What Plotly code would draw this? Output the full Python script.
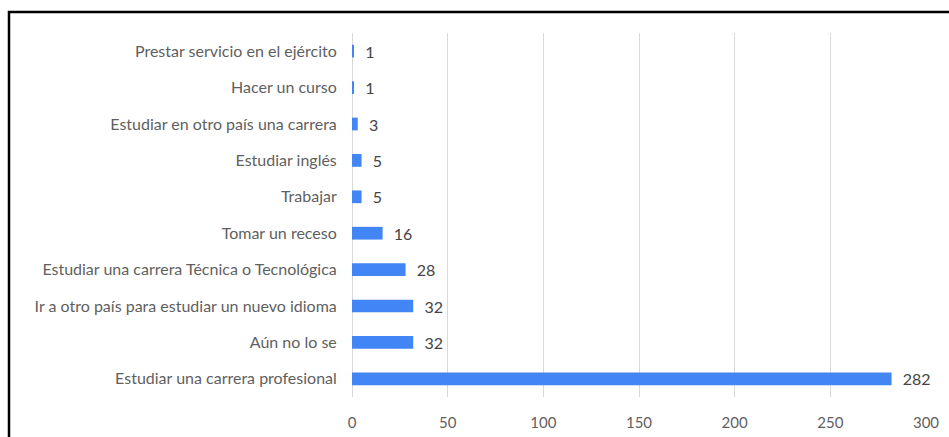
import plotly.graph_objects as go

categories = [
    "Estudiar una carrera profesional",
    "Aún no lo se",
    "Ir a otro país para estudiar un nuevo idioma",
    "Estudiar una carrera Técnica o Tecnológica",
    "Tomar un receso",
    "Trabajar",
    "Estudiar inglés",
    "Estudiar en otro país una carrera",
    "Hacer un curso",
    "Prestar servicio en el ejército",
]
values = [282, 32, 32, 28, 16, 5, 5, 3, 1, 1]
x_ticks = [0, 50, 100, 150, 200, 250, 300]

W, H = 949, 437
L, R, T, B = 352, 23, 33, 40
pw, ph = W - L - R, H - T - B

fig = go.Figure(go.Bar(
    y=categories, x=values, orientation="h",
    marker=dict(color="#4285F4", line=dict(width=0)),
    text=["  " + str(v) for v in values], textposition="outside",
    textfont=dict(family="Lato", size=16, color="#444444"),
    constraintext="none", cliponaxis=False, width=0.35,
))

# outer border frame
x0 = (9 - L) / pw
y1 = (H - B - 12) / ph
fig.add_shape(type="rect", xref="paper", yref="paper",
              x0=x0, x1=3, y0=-3, y1=y1,
              line=dict(color="black", width=2.5), fillcolor="rgba(0,0,0,0)", layer="above")

fig.update_layout(
    width=W, height=H, margin=dict(l=L, r=R, t=T, b=B, autoexpand=False),
    paper_bgcolor="white", plot_bgcolor="white", showlegend=False,
    font=dict(family="Lato", size=16, color="#5f5f5f"),
    xaxis=dict(range=[0, 300], tickvals=x_ticks, showgrid=True, gridcolor="#d9d9d9",
               gridwidth=1, zeroline=True, zerolinecolor="#d9d9d9", zerolinewidth=1,
               ticks="outside", ticklen=12, tickcolor="rgba(0,0,0,0)", automargin=False,
               tickfont=dict(family="Lato", size=15, color="#5f5f5f")),
    yaxis=dict(categoryorder="array", categoryarray=categories, showgrid=False,
               ticks="outside", ticklen=11, tickcolor="rgba(0,0,0,0)", automargin=False,
               tickfont=dict(family="Lato", size=16, color="#5f5f5f")),
)

fig.write_html("out.html", config={"displayModeBar": False},
               post_script="document.body.style.margin='0';document.body.style.overflow='hidden';")
